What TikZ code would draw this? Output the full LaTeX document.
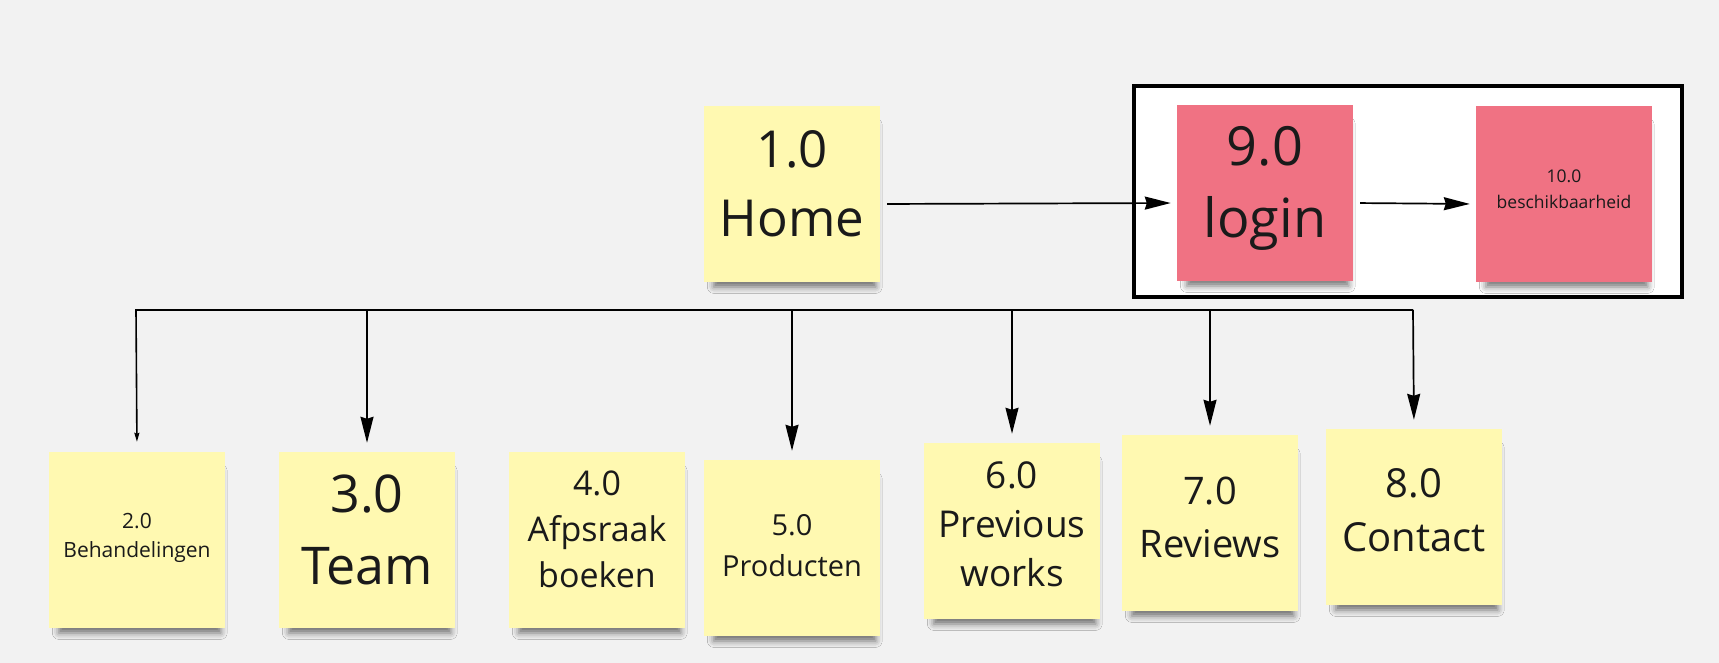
\documentclass[tikz,border=0pt]{standalone}
\usepackage{fontspec}
\setmainfont{Open Sans}
\usepackage{tikz}
\usetikzlibrary{arrows.meta, positioning, shadows.blur}
\usepackage{xcolor}
\definecolor{achtergrond}{HTML}{F2F2F2}
\definecolor{plakgeel}{HTML}{FFF9B1}
\definecolor{plakrood}{HTML}{F07283}
\definecolor{inkt}{HTML}{1A1A1A}
\newcommand{\maat}[2]{\fontsize{#1}{#2}\selectfont}
\tikzset{
    briefje/.style={fill=plakgeel, minimum width=176pt, minimum height=176pt, inner sep=0pt, align=center, text=inkt,
        blur shadow={shadow xshift=3pt, shadow yshift=-13pt, shadow scale=0.92, shadow blur radius=7pt, shadow opacity=55}},
    briefje rood/.style={briefje, fill=plakrood},
    omhoog/.style={text depth=#1},
    pijl/.style={-{Stealth[length=26pt, width=13pt, inset=2pt]}, line width=1.7pt, black, shorten >=9pt},
    pijl klein/.style={-{Stealth[length=9pt, width=5pt, inset=1pt]}, line width=1.6pt, black, shorten >=10pt},
    groep/.style={draw=black, line width=3.5pt, fill=white},
}

\begin{document}
\begin{tikzpicture}[x=1pt, y=-1pt]
\fill[achtergrond] (0,0) rectangle (1719,663);
\useasboundingbox (0,0) rectangle (1719,663);
% kader login
\draw[groep] (1134,86) rectangle (1682,297);
\node[briefje, omhoog=20pt] (home) at (792,194) [font=\maat{51}{69}] {1.0\\Home};
\node[briefje rood, omhoog=22pt] (login) at (1265,193) [font=\maat{54}{72}] {9.0\\login};
\node[briefje rood, omhoog=9pt] (beschikbaarheid) at (1564,194) [font=\maat{17.5}{26}] {10.0\\beschikbaarheid};
\draw[pijl, shorten <=7pt, shorten >=6pt] ([yshift=-10pt]home.east) -- ([yshift=-10pt]login.west);
\draw[pijl, shorten <=7pt, shorten >=6pt] ([yshift=-10pt]login.east) -- ([yshift=-10pt]beschikbaarheid.west);
% pagina's
\node[briefje, omhoog=9pt] (behandelingen) at (137,540) [font=\maat{21}{29}] {2.0\\Behandelingen};
\node[briefje, omhoog=20pt] (team) at (367,540) [font=\maat{52}{72}] {3.0\\Team};
\node[briefje, omhoog=22pt] (afspraak) at (597,540) [font=\maat{34}{46}] {4.0\\Afpsraak\\boeken};
\node[briefje, omhoog=6pt] (producten) at (792,548) [font=\maat{29}{41}] {5.0\\Producten};
\node[briefje, omhoog=13pt] (works) at (1012,531) [font=\maat{37}{49}] {6.0\\Previous\\works};
\node[briefje, omhoog=11pt] (reviews) at (1210,523) [font=\maat{38}{53}] {7.0\\Reviews};
\node[briefje, omhoog=15pt] (contact) at (1414,517) [font=\maat{40}{54}] {8.0\\Contact};
% verdeellijn
\coordinate (bus links) at (136,310);
\coordinate (bus rechts) at (1413,310);
\draw[pijl klein] (bus rechts) -- (bus links) -- (behandelingen.north);
\draw[pijl] (bus rechts) -- (contact.north);
\foreach \n in {team, producten, works, reviews} {\draw[pijl] (\n.north |- bus links) -- (\n.north);}
\end{tikzpicture}
\end{document}
